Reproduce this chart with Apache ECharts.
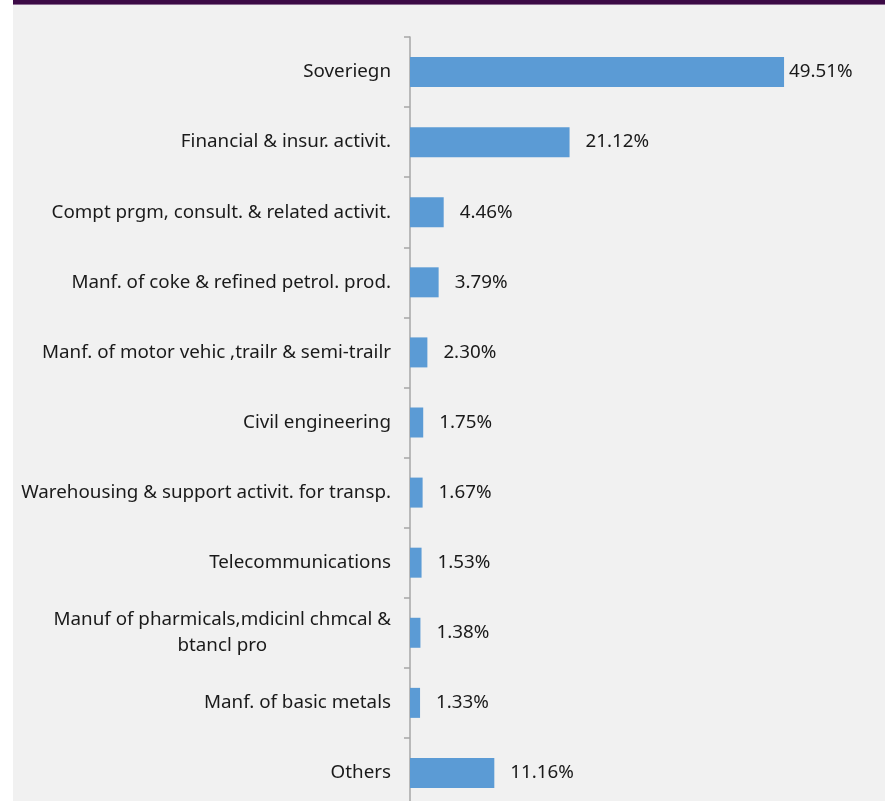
<!DOCTYPE html>
<html>
<head>
<meta charset="utf-8">
<script src="https://cdn.jsdelivr.net/npm/echarts@6/dist/echarts.min.js"></script>
<style>
  html, body { margin: 0; padding: 0; background: #ffffff; overflow: hidden; }
  #chart { width: 892px; height: 812px; }
</style>
</head>
<body>
<div id="chart"></div>
<script>
// Sector breakdown (share of total, %)
var categories = [
  'Soveriegn',
  'Financial & insur. activit.',
  'Compt prgm, consult. & related activit.',
  'Manf. of coke & refined petrol. prod.',
  'Manf. of motor vehic ,trailr & semi-trailr',
  'Civil engineering',
  'Warehousing & support activit. for transp.',
  'Telecommunications',
  'Manuf of pharmicals,mdicinl chmcal &\nbtancl pro',
  'Manf. of basic metals',
  'Others'
];
var shares = [49.51, 21.12, 4.46, 3.79, 2.30, 1.75, 1.67, 1.53, 1.38, 1.33, 11.16];

var FONT = 'Noto Sans';
var FONT_SIZE = 18.8;
var TEXT = '#1a1a1a';

var barData = shares.map(function (v, i) {
  var item = { value: v };
  // the longest bar keeps its label tight against the plot edge
  if (i === 0) item.label = { distance: 5 };
  return item;
});

var chart = echarts.init(document.getElementById('chart'), null, { renderer: 'canvas' });
chart.setOption({
  animation: false,
  backgroundColor: '#ffffff',
  graphic: [
    { type: 'rect', z: -10, shape: { x: 13, y: 0, width: 872, height: 812 }, style: { fill: '#f1f1f1' } },
    { type: 'rect', z: -9, shape: { x: 13, y: 0, width: 872, height: 4 }, style: { fill: '#3c0a46' } },
    { type: 'rect', z: -9, shape: { x: 13, y: 4, width: 872, height: 1 }, style: { fill: '#8c6c92' } }
  ],
  grid: { left: 410, top: 37, width: 453.3, height: 771, containLabel: false },
  xAxis: {
    type: 'value',
    min: 0,
    max: 60,
    show: false
  },
  yAxis: {
    type: 'category',
    inverse: true,
    data: categories,
    axisLine: { show: true, lineStyle: { color: '#a6a6a6', width: 1.5 } },
    axisTick: { show: true, length: 6, lineStyle: { color: '#a6a6a6', width: 1.5 } },
    axisLabel: {
      margin: 19,
      fontFamily: FONT,
      fontSize: FONT_SIZE,
      color: TEXT,
      lineHeight: 26,
      formatter: function (v) { return '{c|' + v.split('\n').join('}\n{c|') + '}'; },
      rich: { c: { align: 'center', fontFamily: FONT, fontSize: FONT_SIZE, color: TEXT, lineHeight: 26 } }
    },
    splitLine: { show: false }
  },
  series: [{
    type: 'bar',
    data: barData,
    barWidth: 30,
    itemStyle: { color: '#5b9bd5' },
    label: {
      show: true,
      position: 'right',
      distance: 16,
      fontFamily: FONT,
      fontSize: FONT_SIZE,
      color: TEXT,
      formatter: function (p) { return p.value.toFixed(2) + '%'; }
    }
  }]
});
</script>
</body>
</html>
